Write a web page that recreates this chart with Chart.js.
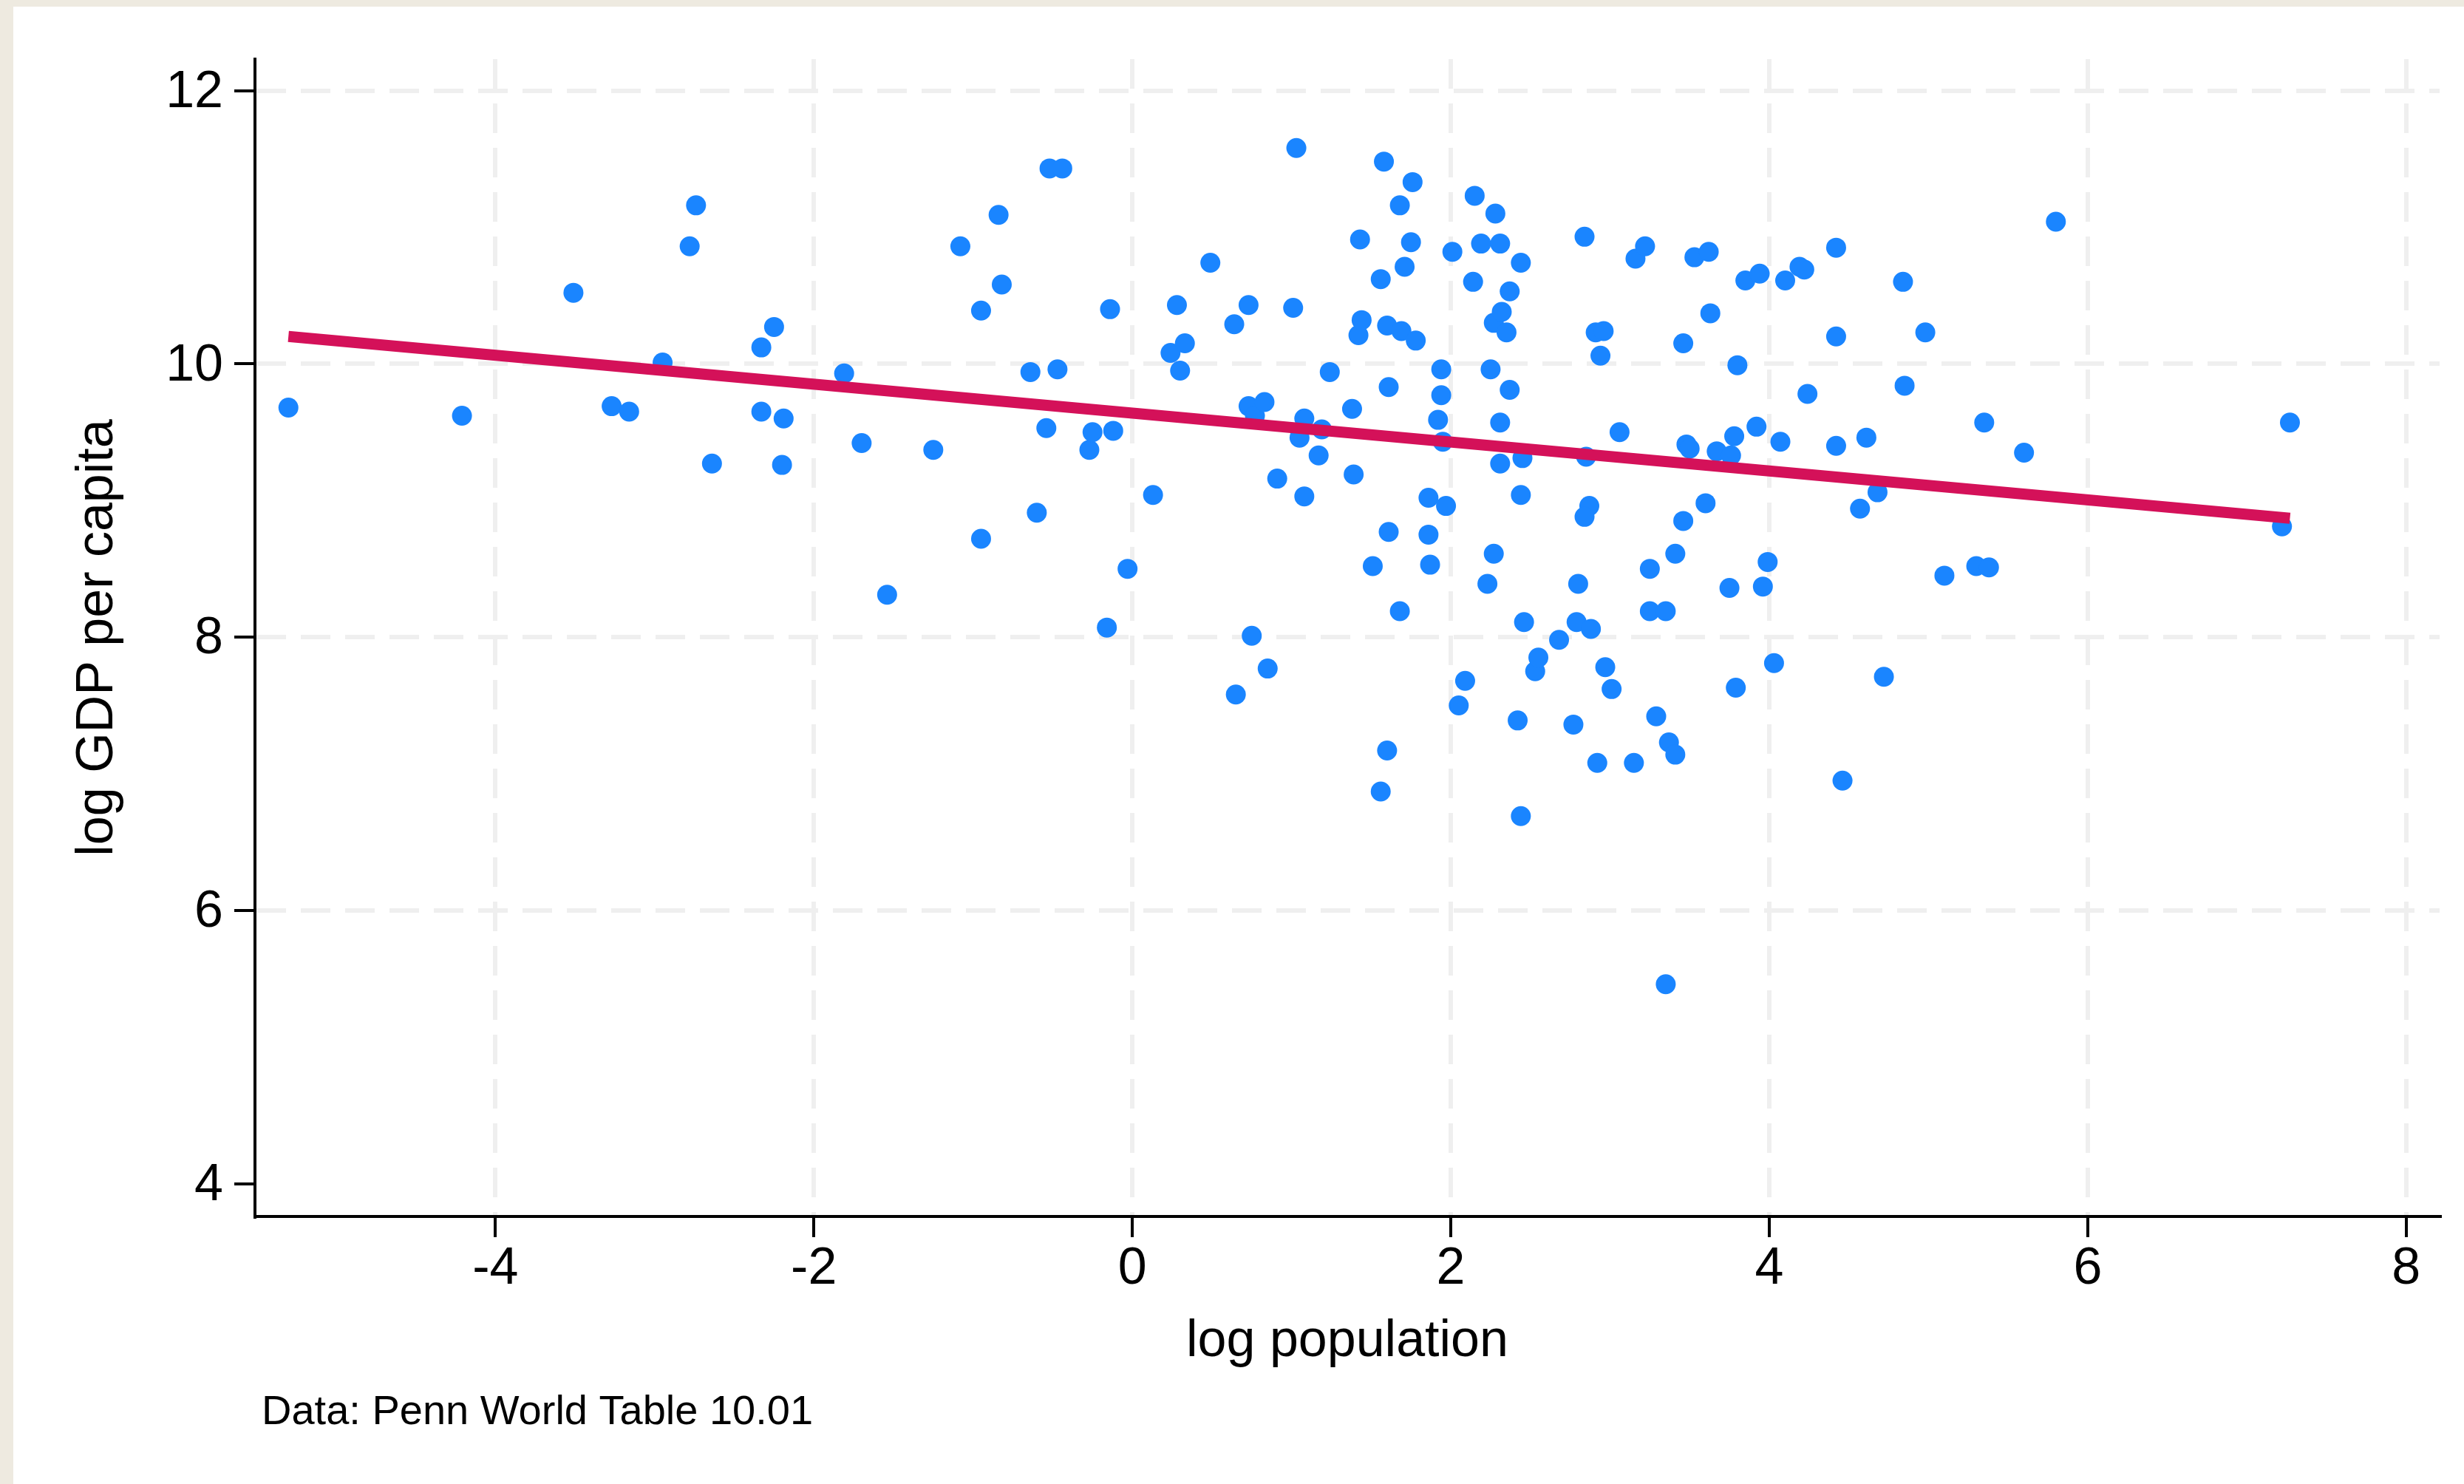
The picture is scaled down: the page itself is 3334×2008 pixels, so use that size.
<!DOCTYPE html>
<html>
<head>
<meta charset="utf-8">
<title>log GDP per capita vs log population</title>
<script src="https://cdn.jsdelivr.net/npm/chart.js@4.4.1/dist/chart.umd.min.js"></script>
<style>
  html, body { margin: 0; padding: 0; background: #ffffff; }
  canvas { display: block; }
</style>
</head>
<body>
<canvas id="chart" width="3334" height="2008"></canvas>
<script>
// Countries: log population (x) and log GDP per capita (y)
const logPop = [
  -5.30, -4.21, -3.51, -3.27, -3.16, -2.95, -2.74, -2.78, -2.64, -2.33,
  -2.25, -2.33, -2.19, -2.20, -1.81, -1.70, -1.54, -1.25, -1.08, -0.95,
  -0.95, -0.84, -0.82, -0.64, -0.60, -0.54, -0.52, -0.44, -0.47, -0.27,
  -0.25, -0.14, -0.12, -0.16, -0.03, 0.13, 0.24, 0.28, 0.30, 0.33,
  0.49, 0.65, 0.64, 0.73, 0.73, 0.75, 0.77, 0.83, 0.85, 0.91,
  1.01, 1.03, 1.05, 1.08, 1.08, 1.17, 1.19, 1.24, 1.38, 1.39,
  1.42, 1.43, 1.44, 1.51, 1.56, 1.56, 1.58, 1.60, 1.60, 1.61,
  1.61, 1.68, 1.68, 1.71, 1.69, 1.75, 1.76, 1.78, 1.86, 1.86,
  1.87, 1.92, 1.94, 1.94, 1.95, 1.97, 2.01, 2.05, 2.09, 2.14,
  2.15, 2.19, 2.23, 2.25, 2.27, 2.27, 2.28, 2.31, 2.31, 2.32,
  2.31, 2.35, 2.37, 2.37, 2.42, 2.44, 2.44, 2.44, 2.45, 2.46,
  2.53, 2.55, 2.68, 2.77, 2.80, 2.79, 2.84, 2.85, 2.87, 2.84,
  2.88, 2.91, 2.92, 2.96, 2.94, 2.97, 3.01, 3.06, 3.15, 3.16,
  3.22, 3.25, 3.25, 3.29, 3.35, 3.37, 3.35, 3.41, 3.41, 3.46,
  3.46, 3.48, 3.50, 3.53, 3.60, 3.62, 3.63, 3.67, 3.75, 3.76,
  3.78, 3.79, 3.80, 3.85, 3.94, 3.92, 3.96, 3.99, 4.03, 4.07,
  4.10, 4.19, 4.22, 4.24, 4.42, 4.42, 4.42, 4.46, 4.57, 4.61,
  4.68, 4.72, 4.84, 4.85, 4.98, 5.10, 5.30, 5.38, 5.35, 5.60,
  5.80, 7.22, 7.27
];
const logGdp = [
  9.68, 9.62, 10.52, 9.69, 9.65, 10.01, 11.16, 10.86, 9.27, 10.12,
  10.27, 9.65, 9.60, 9.26, 9.93, 9.42, 8.31, 9.37, 10.86, 10.39,
  8.72, 11.09, 10.58, 9.94, 8.91, 9.53, 11.43, 11.43, 9.96, 9.37,
  9.50, 10.40, 9.51, 8.07, 8.50, 9.04, 10.08, 10.43, 9.95, 10.15,
  10.74, 7.58, 10.29, 9.69, 10.43, 8.01, 9.62, 9.72, 7.77, 9.16,
  10.41, 11.58, 9.46, 9.60, 9.03, 9.33, 9.52, 9.94, 9.67, 9.19,
  10.21, 10.91, 10.32, 8.52, 6.87, 10.62, 11.48, 10.28, 7.17, 8.77,
  9.83, 11.16, 8.19, 10.71, 10.24, 10.89, 11.33, 10.17, 9.02, 8.75,
  8.53, 9.59, 9.96, 9.77, 9.43, 8.96, 10.82, 7.50, 7.68, 10.60,
  11.23, 10.88, 8.39, 9.96, 10.30, 8.61, 11.10, 10.88, 9.57, 10.38,
  9.27, 10.23, 10.53, 9.81, 7.39, 6.69, 10.74, 9.04, 9.31, 8.11,
  7.75, 7.85, 7.98, 7.36, 8.39, 8.11, 10.93, 9.32, 8.96, 8.88,
  8.06, 10.23, 7.08, 10.24, 10.06, 7.78, 7.62, 9.50, 7.08, 10.77,
  10.86, 8.50, 8.19, 7.42, 8.19, 7.23, 5.46, 7.14, 8.61, 10.15,
  8.85, 9.41, 9.38, 10.78, 8.98, 10.82, 10.37, 9.36, 8.36, 9.33,
  9.47, 7.63, 9.99, 10.61, 10.66, 9.54, 8.37, 8.55, 7.81, 9.43,
  10.61, 10.71, 10.69, 9.78, 10.85, 10.20, 9.40, 6.95, 8.94, 9.46,
  9.06, 7.71, 10.60, 9.84, 10.23, 8.45, 8.52, 8.51, 9.57, 9.35,
  11.04, 8.81, 9.57
];

// Fitted line, end points
const fitX = [-5.30, 7.27];
const fitY = [10.20, 8.87];

const xTicks = [-4, -2, 0, 2, 4, 6, 8];
const yTicks = [4, 6, 8, 10, 12];

Chart.defaults.font.family = '"Liberation Sans", Arial, Helvetica, sans-serif';
Chart.defaults.color = '#000000';

// Beige frame on the top and left edge, white page
const pageBackground = {
  id: 'pageBackground',
  beforeDraw(chart) {
    const ctx = chart.ctx;
    ctx.save();
    ctx.fillStyle = '#eeeae0';
    ctx.fillRect(0, 0, chart.width, chart.height);
    ctx.fillStyle = '#ffffff';
    ctx.fillRect(18, 9, chart.width - 18, chart.height - 9);
    ctx.restore();
  }
};

// Source note under the x axis title
const sourceNote = {
  id: 'sourceNote',
  afterDraw(chart) {
    const ctx = chart.ctx;
    ctx.save();
    ctx.font = '56px "Liberation Sans", Arial, Helvetica, sans-serif';
    ctx.fillStyle = '#000000';
    ctx.textAlign = 'left';
    ctx.textBaseline = 'alphabetic';
    ctx.fillText('Data: Penn World Table 10.01', 354, 1927);
    ctx.restore();
  }
};

const gridColor = '#efefef';

new Chart(document.getElementById('chart'), {
  type: 'scatter',
  data: {
    datasets: [
      {
        label: 'Fitted values',
        data: fitX.map((x, i) => ({ x: x, y: fitY[i] })),
        showLine: true,
        borderColor: '#d41159',
        borderWidth: 15,
        borderCapStyle: 'butt',
        pointRadius: 0,
        fill: false,
        order: 0
      },
      {
        label: 'log GDP per capita',
        data: logPop.map((x, i) => ({ x: x, y: logGdp[i] })),
        backgroundColor: '#1a85ff',
        pointBackgroundColor: '#1a85ff',
        pointBorderWidth: 0,
        pointRadius: 13.5,
        order: 1
      }
    ]
  },
  options: {
    responsive: false,
    maintainAspectRatio: false,
    devicePixelRatio: 1,
    animation: false,
    events: [],
    layout: {
      autoPadding: false,
      padding: { left: 0, top: 80, right: 33, bottom: 0 }
    },
    plugins: {
      legend: { display: false },
      tooltip: { enabled: false },
      title: { display: false }
    },
    scales: {
      x: {
        type: 'linear',
        position: 'bottom',
        min: -5.51,
        max: 8.21,
        afterFit: s => { s.height = 362; },
        afterBuildTicks: s => { s.ticks = xTicks.map(v => ({ value: v })); },
        ticks: {
          font: { size: 70 },
          color: '#000000',
          padding: 2,
          maxRotation: 0,
          autoSkip: false,
          includeBounds: false,
          callback: v => String(v)
        },
        grid: {
          color: gridColor,
          lineWidth: 6,
          drawTicks: true,
          tickLength: 28,
          tickColor: '#000000',
          tickWidth: 4
        },
        border: { display: true, color: '#000000', width: 4, dash: [40, 20] },
        title: {
          display: true,
          text: 'log population',
          font: { size: 70 },
          color: '#000000',
          padding: { top: 0, bottom: 150 }
        }
      },
      y: {
        type: 'linear',
        position: 'left',
        min: 3.76,
        max: 12.23,
        afterFit: s => { s.width = 345; },
        afterBuildTicks: s => { s.ticks = yTicks.map(v => ({ value: v })); },
        ticks: {
          font: { size: 70 },
          color: '#000000',
          padding: 15,
          labelOffset: 3,
          autoSkip: false,
          includeBounds: false,
          callback: v => String(v)
        },
        grid: {
          color: c => (c.tick && c.tick.value === 4) ? 'rgba(0,0,0,0)' : gridColor,
          lineWidth: 6,
          drawTicks: true,
          tickLength: 28,
          tickColor: '#000000',
          tickWidth: 4
        },
        border: { display: true, color: '#000000', width: 4, dash: [40, 20] },
        title: {
          display: true,
          text: 'log GDP per capita',
          font: { size: 70 },
          color: '#000000',
          padding: { top: 91, bottom: 0 }
        }
      }
    }
  },
  plugins: [pageBackground, sourceNote]
});
</script>
</body>
</html>
